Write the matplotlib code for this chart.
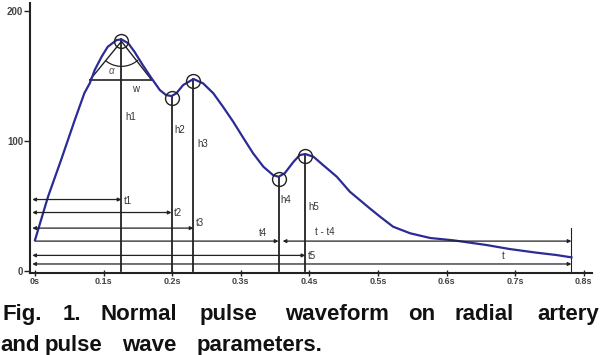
import numpy as np
import matplotlib.pyplot as plt

plt.rcParams['font.family'] = ['Liberation Sans', 'DejaVu Sans']

# courbe du pouls (temps en s, amplitude)
t = [0.000, 0.019, 0.038, 0.058, 0.072, 0.080, 0.087, 0.097, 0.106, 0.119,
     0.126, 0.136, 0.145, 0.157, 0.170, 0.182, 0.191, 0.199, 0.206, 0.216,
     0.231, 0.245, 0.260, 0.274, 0.289, 0.304, 0.318, 0.333, 0.347, 0.355,
     0.364, 0.377, 0.386, 0.394, 0.406, 0.420, 0.440, 0.459, 0.488,
     0.503, 0.522, 0.547, 0.576, 0.610, 0.634, 0.658, 0.692, 0.731, 0.760,
     0.782]
v = [23.8, 57.2, 85.4, 116.2, 136.9, 144.6, 154.6, 164.8, 172.5, 177.7,
     178.2, 175.2, 168.7, 158.5, 148.2, 139.2, 135.4, 134.6, 136.7, 143.1,
     147.7, 144.4, 136.7, 126.4, 114.8, 102.1, 90.5, 80.2, 73.8, 72.5,
     75.2, 84.1, 89.2, 90.0, 87.9, 81.5, 72.5, 61.0, 48.2,
     41.8, 34.1, 29.0, 25.4, 23.6, 21.8, 20.0, 16.9, 14.1, 12.3,
     10.5]

# points caractéristiques h1..h5 (indices dans la courbe)
idx_h = [10, 17, 20, 29, 33]
noms_h = ["h1", "h2", "h3", "h4", "h5"]
idx_w = [5, 14]       # extrémités de la largeur w
niveau_w = 147
t_fin = 0.782
xticks = [0, 0.1, 0.2, 0.3, 0.4, 0.5, 0.6, 0.7, 0.8]
xlabels = ["0s", "0.1s", "0.2s", "0.3s", "0.4s", "0.5s", "0.6s", "0.7s", "0.8s"]
yticks = [0, 100, 200]

noir = "#222222"
gris = "#333333"

fig = plt.figure(figsize=(6.02, 3.55), dpi=100)
ax = fig.add_axes([30 / 602, 82 / 355, 562 / 602, 270 / 355])
ax.set_xlim(-0.0073, 0.812)
ax.set_ylim(-1.54, 206.2)
sx = 562 / 0.8193   # px par seconde
sy = 270 / 207.74   # px par unité

for s in ["top", "right"]:
    ax.spines[s].set_visible(False)
for s in ["left", "bottom"]:
    ax.spines[s].set_linewidth(1.5)
    ax.spines[s].set_color(noir)

ax.set_xticks(xticks)
ax.set_xticklabels(xlabels, fontsize=6.5, fontweight="bold")
ax.set_yticks(yticks)
ax.set_yticklabels([str(y) for y in yticks], fontsize=7, fontweight="bold")
ax.tick_params(axis="x", direction="inout", length=4, width=1, pad=1, colors=noir, labelcolor="#444444")
ax.tick_params(axis="y", direction="out", length=4, width=1, pad=1, colors=noir, labelcolor="#444444")

# verticales h1..h5 + cercles
for i in idx_h:
    ax.plot([t[i], t[i]], [0, v[i]], color=noir, lw=1.3, zorder=2)
    ax.plot(t[i], v[i] - 1.5, "o", ms=10, mfc="none", mec=noir, mew=1, zorder=4)
ax.plot([t_fin, t_fin], [0, 33], color=noir, lw=0.8)

# la courbe
ax.plot(t, v, color="#2b2b96", lw=1.6, zorder=3, solid_joinstyle="round")

# étiquettes h (décalage en pixels)
decal_h = {"h1": (4, -78), "h2": (3, -34), "h3": (4, -65), "h4": (2, -23), "h5": (3, -53)}
for i, nom in zip(idx_h, noms_h):
    ax.annotate(nom, (t[i], v[i]), xytext=decal_h[nom], textcoords="offset pixels",
                fontsize=7, color=gris, va="center", ha="left")


def fleche(x0, x1, y, style="<|-|>"):
    ax.annotate("", xy=(x1, y), xytext=(x0, y),
                arrowprops=dict(arrowstyle=style, lw=0.9, color=noir,
                                mutation_scale=5, shrinkA=0, shrinkB=0))


x_ax = -0.004
fleche(x_ax, t[idx_h[0]], 55)
fleche(x_ax, t[idx_h[1]], 45)
fleche(x_ax, t[idx_h[2]], 33)
fleche(t[0], t[idx_h[3]], 23, "-|>")
fleche(t[idx_h[3]] + 0.006, t_fin, 23)
fleche(x_ax, t[idx_h[4]], 12)
fleche(x_ax, t_fin, 5.4)

txt = dict(fontsize=7, color=gris, va="center", ha="left")
ax.text(t[idx_h[0]] + 0.004, 54, "t1", **txt)
ax.text(t[idx_h[1]] + 0.004, 45, "t2", **txt)
ax.text(t[idx_h[2]] + 0.004, 37, "t3", **txt)
ax.text(t[idx_h[3]] - 0.028, 29, "t4", **txt)
ax.text(t[idx_h[4]] + 0.014, 30, "t - t4", **txt)
ax.text(t[idx_h[4]] + 0.004, 11.5, "t5", **txt)
ax.text(0.682, 11.5, "t", fontsize=7, color=gris, va="center", ha="center")

# triangle et angle alpha au sommet
i1 = idx_h[0]
base_g, base_d = t[idx_w[0]], t[idx_w[1]]
ax.plot([base_g, t[i1], base_d], [niveau_w, v[i1] - 1.5, niveau_w], color=noir, lw=1)
ax.plot([base_g, base_d], [niveau_w, niveau_w], color=noir, lw=1.2)
ang = np.radians(np.linspace(232, 310, 30))
ax.plot(t[i1] + 25 * np.cos(ang) / sx, v[i1] - 1.5 + 25 * np.sin(ang) / sy, color=noir, lw=0.9)
ax.text(t[i1] - 0.014, v[i1] - 24, "α", fontsize=7, color="#555555", style="italic", ha="center", va="center")
ax.text(t[i1] + 0.021, v[i1] - 38, "w", fontsize=7, color=gris, ha="center", va="center")

# légende justifiée, mot par mot
ligne1 = ["Fig.", "1.", "Normal", "pulse", "waveform", "on", "radial", "artery"]
x1 = [2, 63, 100, 200, 285, 408, 455, 537]
ligne2 = ["and", "pulse", "wave", "parameters."]
x2 = [0, 45, 122, 197]
for mot, x in zip(ligne1, x1):
    fig.text(x / 602, (355 - 320) / 355, mot, fontsize=16,
             fontweight="bold", color="#111111", va="baseline", ha="left")
for mot, x in zip(ligne2, x2):
    fig.text(x / 602, (355 - 351) / 355, mot, fontsize=16,
             fontweight="bold", color="#111111", va="baseline", ha="left")

fig.savefig("out.png", dpi=100)
